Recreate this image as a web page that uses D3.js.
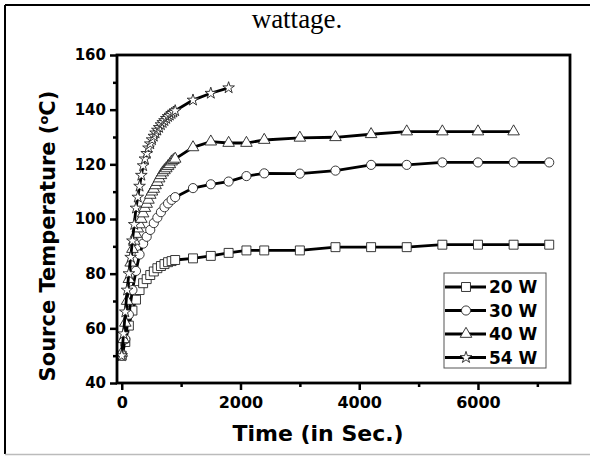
<!DOCTYPE html>
<html>
<head>
<meta charset="utf-8">
<script src="https://cdn.jsdelivr.net/npm/d3@7"></script>
<style>
  body { margin: 0; background: #fff; }
  text { font-family: "DejaVu Sans", Arial, sans-serif; font-weight: bold; }
</style>
</head>
<body>
<div id="chart"></div>
<script>
// readings (time in s, temperature in degC)
const time20 = [0, 60, 120, 180, 240, 300, 360, 420, 480, 540, 600, 660, 720, 780, 840, 900, 1200, 1500, 1800, 2100, 2400, 3000, 3600, 4200, 4800, 5400, 6000, 6600, 7200]
const temp20 = [50, 55, 61, 66.5, 70.5, 74, 76.5, 78, 79.5, 80.8, 82, 82.8, 83.5, 84.2, 84.6, 85, 85.6, 86.5, 87.6, 88.5, 88.5, 88.5, 89.7, 89.7, 89.7, 90.6, 90.6, 90.6, 90.6]

const time30 = [0, 60, 120, 180, 240, 300, 360, 420, 480, 540, 600, 660, 720, 780, 840, 900, 1200, 1500, 1800, 2100, 2400, 3000, 3600, 4200, 4800, 5400, 6000, 6600, 7200]
const temp30 = [50, 56, 65, 74, 81, 87, 91, 93.5, 96, 98.5, 100.5, 102.5, 104.3, 105.7, 107, 108, 111.3, 112.7, 113.7, 115.7, 116.7, 116.6, 117.7, 119.8, 119.8, 120.7, 120.7, 120.7, 120.7]

const time40 = [0, 30, 60, 90, 120, 150, 180, 210, 240, 270, 300, 330, 360, 390, 420, 450, 480, 510, 540, 570, 600, 630, 660, 690, 720, 750, 780, 810, 840, 870, 900, 1200, 1500, 1800, 2100, 2400, 3000, 3600, 4200, 4800, 5400, 6000, 6600]
const temp40 = [51, 56, 62, 70, 78, 84, 89, 92, 94.5, 96.5, 98, 100, 102, 104, 105.5, 107, 108.8, 110, 111, 112.3, 113.5, 114.8, 116, 117, 117.8, 118.5, 119.3, 120, 121, 121.5, 122, 126.2, 128.3, 127.8, 127.8, 128.9, 129.7, 129.9, 131, 132, 132, 132, 132]

const time54 = [0, 30, 60, 90, 120, 150, 180, 210, 240, 270, 300, 330, 360, 390, 420, 450, 480, 510, 540, 570, 600, 630, 660, 690, 720, 750, 780, 810, 840, 870, 900, 1200, 1500, 1800]
const temp54 = [50, 58, 66, 74, 80, 86, 92, 98, 104, 108, 112, 116, 119.5, 122, 124, 126, 127.5, 129, 130.3, 131.5, 132.5, 133.5, 134.5, 135.3, 136, 136.8, 137.5, 138, 138.6, 139.1, 139.6, 143.5, 146, 148]

const seriesNames = ["20 W", "30 W", "40 W", "54 W"]
const xTicks = [0, 2000, 4000, 6000]
const yTicks = [40, 60, 80, 100, 120, 140, 160]

const W = 590, H = 456
const plot = { left: 117, right: 570, top: 55, bottom: 383 }

const svg = d3.select("#chart").append("svg")
    .attr("width", W)
    .attr("height", H)

svg.append("rect").attr("width", W).attr("height", H).attr("fill", "#fff")

// outer frame of the figure
svg.append("line").attr("x1", 5).attr("x2", 5).attr("y1", 5).attr("y2", 454)
    .attr("stroke", "#000").attr("stroke-width", 2)
svg.append("line").attr("x1", 5).attr("x2", W).attr("y1", 5).attr("y2", 5)
    .attr("stroke", "#000").attr("stroke-width", 2)
svg.append("line").attr("x1", 5).attr("x2", W).attr("y1", 454.5).attr("y2", 454.5)
    .attr("stroke", "#bbb").attr("stroke-width", 1.5)

svg.append("text")
    .attr("x", 297).attr("y", 28)
    .attr("text-anchor", "middle")
    .style("font-family", "'Liberation Serif', 'Times New Roman', serif")
    .style("font-weight", "normal")
    .style("font-size", "27px")
    .text("wattage.")

const x = d3.scaleLinear().domain([-80, 7550]).range([plot.left, plot.right])
const y = d3.scaleLinear().domain([40, 160]).range([plot.bottom, plot.top])

// minor ticks
svg.append("g")
    .attr("transform", "translate(0," + plot.bottom + ")")
    .call(d3.axisBottom(x).tickValues([1000, 3000, 5000, 7000]).tickSize(4).tickFormat(""))
    .call(g => g.select(".domain").remove())
    .call(g => g.selectAll("line").attr("stroke-width", 2.5))
svg.append("g")
    .attr("transform", "translate(" + plot.left + ",0)")
    .call(d3.axisLeft(y).tickValues([50, 70, 90, 110, 130, 150]).tickSize(4).tickFormat(""))
    .call(g => g.select(".domain").remove())
    .call(g => g.selectAll("line").attr("stroke-width", 2.5))

// major ticks
svg.append("g")
    .attr("transform", "translate(0," + plot.bottom + ")")
    .call(d3.axisBottom(x).tickValues(xTicks).tickSize(7).tickPadding(7).tickFormat(d3.format("d")))
    .call(g => g.select(".domain").remove())
    .call(g => g.selectAll("line").attr("stroke-width", 2.5))
    .call(g => g.selectAll("text").style("font-size", "16px").attr("fill", "#000"))
svg.append("g")
    .attr("transform", "translate(" + plot.left + ",0)")
    .call(d3.axisLeft(y).tickValues(yTicks).tickSize(7).tickPadding(4).tickFormat(d3.format("d")))
    .call(g => g.select(".domain").remove())
    .call(g => g.selectAll("line").attr("stroke-width", 2.5))
    .call(g => g.selectAll("text").style("font-size", "15px").attr("fill", "#000"))

// series
const line = d3.line().x(d => x(d[0])).y(d => y(d[1]))
const series = [
    { name: seriesNames[0], pts: d3.zip(time20, temp20), sym: d3.symbolSquare, size: 80 },
    { name: seriesNames[1], pts: d3.zip(time30, temp30), sym: d3.symbolCircle, size: 66 },
    { name: seriesNames[2], pts: d3.zip(time40, temp40), sym: d3.symbolTriangle, size: 58 },
    { name: seriesNames[3], pts: d3.zip(time54, temp54), sym: d3.symbolStar, size: 42 },
]

series.forEach(s => {
    const g = svg.append("g")
    g.append("path")
        .attr("d", line(s.pts))
        .attr("fill", "none")
        .attr("stroke", "#000")
        .attr("stroke-width", 2.8)
    g.selectAll("path.m")
        .data(s.pts)
        .enter().append("path")
        .attr("class", "m")
        .attr("transform", d => "translate(" + x(d[0]) + "," + y(d[1]) + ")")
        .attr("d", d3.symbol(s.sym, s.size))
        .attr("fill", "#fff")
        .attr("stroke", "#222")
        .attr("stroke-width", 0.9)
})

// plot frame
svg.append("rect")
    .attr("x", plot.left).attr("y", plot.top)
    .attr("width", plot.right - plot.left).attr("height", plot.bottom - plot.top)
    .attr("fill", "none").attr("stroke", "#000").attr("stroke-width", 2.8)

// axis titles
svg.append("text")
    .attr("x", 318).attr("y", 441)
    .attr("text-anchor", "middle")
    .style("font-size", "22px")
    .text("Time (in Sec.)")

const yt = svg.append("text")
    .attr("transform", "translate(55,236) rotate(-90)")
    .attr("text-anchor", "middle")
    .style("font-size", "21px")
yt.append("tspan").text("Source Temperature (")
yt.append("tspan").attr("dy", -7).style("font-size", "13px").text("o")
yt.append("tspan").attr("dy", 7).text("C)")

// legend
const legend = svg.append("g")
legend.append("rect")
    .attr("x", 444).attr("y", 273).attr("width", 102).attr("height", 95)
    .attr("fill", "#fff").attr("stroke", "#555").attr("stroke-width", 1)

series.forEach((s, i) => {
    const ly = 287 + i * 23.5
    legend.append("line")
        .attr("x1", 445).attr("x2", 486).attr("y1", ly).attr("y2", ly)
        .attr("stroke", "#000").attr("stroke-width", 2.8)
    legend.append("path")
        .attr("transform", "translate(466," + ly + ")")
        .attr("d", d3.symbol(s.sym, s.size))
        .attr("fill", "#fff").attr("stroke", "#222").attr("stroke-width", 0.9)
    legend.append("text")
        .attr("x", 489).attr("y", ly + 6)
        .style("font-size", "17px")
        .text(s.name)
})
</script>
</body>
</html>
